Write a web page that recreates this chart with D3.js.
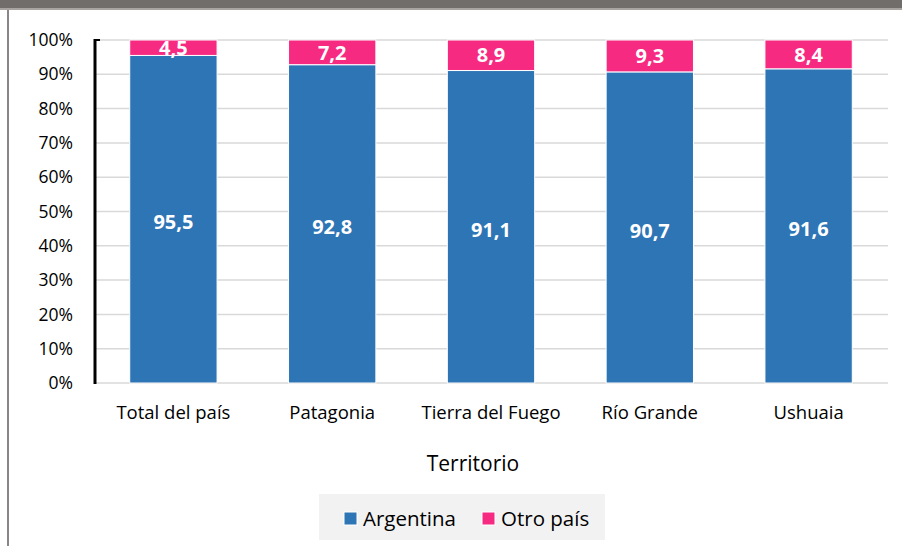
<!DOCTYPE html>
<html>
<head>
<meta charset="utf-8">
<script src="https://cdn.jsdelivr.net/npm/d3@7"></script>
<style>
  body { margin: 0; background: #fff; }
  svg { display: block; font-family: "Open Sans", "Noto Sans", sans-serif; }
</style>
</head>
<body>
<div id="chart"></div>
<script>
// data
var categories = ["Total del país", "Patagonia", "Tierra del Fuego", "Río Grande", "Ushuaia"];
var argentina = [95.5, 92.8, 91.1, 90.7, 91.6];
var otroPais = [4.5, 7.2, 8.9, 9.3, 8.4];
var seriesNames = ["Argentina", "Otro país"];
var tickValues = [0, 10, 20, 30, 40, 50, 60, 70, 80, 90, 100];

var colors = ["#2e75b6", "#f72a82"];
var W = 902, H = 546;

var svg = d3.select("#chart").append("svg")
    .attr("width", W)
    .attr("height", H);

// frame: dark top strip and left border
svg.append("rect").attr("x", 0).attr("y", 0).attr("width", W).attr("height", 8).attr("fill", "#716d6b");
svg.append("rect").attr("x", 0).attr("y", 8).attr("width", W).attr("height", 2).attr("fill", "#a7a4a2");
svg.append("rect").attr("x", 7).attr("y", 10).attr("width", 2).attr("height", H - 10).attr("fill", "#8a8786");

var margin = { top: 40, left: 94, right: 14, bottom: 163 };
var width = W - margin.left - margin.right,
    height = H - margin.top - margin.bottom;

var g = svg.append("g").attr("transform", "translate(" + margin.left + "," + margin.top + ")");

var x = d3.scaleBand().domain(categories).range([0, width]).paddingInner(0.45).paddingOuter(0.225);
var y = d3.scaleLinear().domain([0, 100]).range([height, 0]);

// gridlines
g.append("g").selectAll("line")
    .data(tickValues)
    .enter().append("line")
    .attr("x1", 2).attr("x2", width)
    .attr("y1", function (d) { return y(d); })
    .attr("y2", function (d) { return y(d); })
    .attr("stroke", "#d9d9d9")
    .attr("stroke-width", 1.5);

// stacked data
var rows = categories.map(function (c, i) {
    return { cat: c, Argentina: argentina[i], "Otro país": otroPais[i] };
});
var stack = d3.stack().keys(seriesNames)(rows);

var layers = g.selectAll(".layer")
    .data(stack)
    .enter().append("g")
    .attr("class", "layer")
    .attr("fill", function (d, i) { return colors[i]; });

layers.selectAll("rect")
    .data(function (d) { return d; })
    .enter().append("rect")
    .attr("x", function (d) { return x(d.data.cat); })
    .attr("y", function (d) { return y(d[1]); })
    .attr("width", x.bandwidth())
    .attr("height", function (d) { return y(d[0]) - y(d[1]); })
    .attr("stroke", "#fff")
    .attr("stroke-width", 1);

// value labels
layers.selectAll("text")
    .data(function (d, i) { return d.map(function (p) { return { p: p, s: i }; }); })
    .enter().append("text")
    .attr("x", function (d) { return x(d.p.data.cat) + x.bandwidth() / 2; })
    .attr("y", function (d) { return (y(d.p[0]) + y(d.p[1])) / 2 + (d.s === 0 ? 3 : 0); })
    .attr("dy", "0.36em")
    .attr("text-anchor", "middle")
    .attr("fill", "#fff")
    .attr("font-weight", "bold")
    .attr("font-size", 20)
    .text(function (d) { return d3.format(".1f")(d.p[1] - d.p[0]).replace(".", ","); });

// y axis
var yAxis = d3.axisLeft(y).tickValues(tickValues).tickSize(0).tickPadding(21)
    .tickFormat(function (d) { return d + "%"; });
var yg = g.append("g").call(yAxis);
yg.select(".domain").remove();
yg.selectAll("text").attr("font-size", 17.5).attr("fill", "#000").attr("font-family", "Open Sans, sans-serif");
g.append("line").attr("x1", 1).attr("x2", 1).attr("y1", -1).attr("y2", height + 1)
    .attr("stroke", "#000").attr("stroke-width", 3);
g.append("line").attr("x1", 0).attr("x2", 6).attr("y1", 0).attr("y2", 0)
    .attr("stroke", "#000").attr("stroke-width", 2);

// x axis
var xAxis = d3.axisBottom(x).tickSize(0).tickPadding(23);
var xg = g.append("g").attr("transform", "translate(0," + height + ")").call(xAxis);
xg.select(".domain").remove();
xg.selectAll("text").attr("font-size", 18.5).attr("fill", "#000").attr("font-family", "Open Sans, sans-serif");

// axis title
svg.append("text")
    .attr("x", margin.left + width / 2 - 18)
    .attr("y", 471)
    .attr("text-anchor", "middle")
    .attr("font-size", 21)
    .attr("fill", "#000")
    .text("Territorio");

// legend
var leg = svg.append("g").attr("transform", "translate(319,494)");
leg.append("rect").attr("width", 286).attr("height", 46).attr("fill", "#f2f2f2");
var legX = [25, 163];
var items = leg.selectAll(".item")
    .data(seriesNames)
    .enter().append("g")
    .attr("class", "item")
    .attr("transform", function (d, i) { return "translate(" + legX[i] + ",18)"; });
items.append("rect").attr("width", 13).attr("height", 13)
    .attr("fill", function (d, i) { return colors[i]; })
    .attr("stroke", "#fff").attr("stroke-width", 1);
items.append("text").attr("x", 19).attr("y", 6.5).attr("dy", "0.36em")
    .attr("font-size", 20.5).attr("fill", "#000")
    .text(function (d) { return d; });
</script>
</body>
</html>
